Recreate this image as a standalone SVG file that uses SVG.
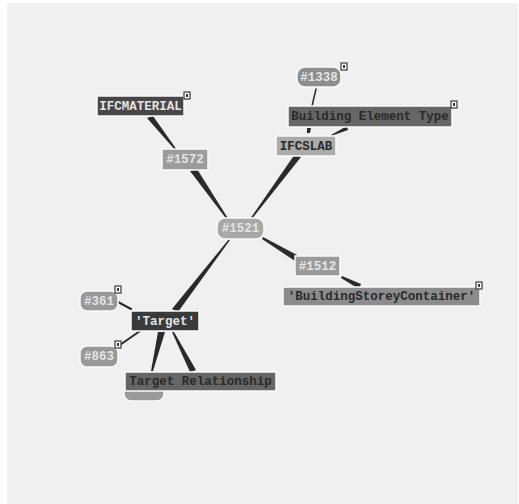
<svg xmlns="http://www.w3.org/2000/svg" width="519" height="504" viewBox="0 0 519 504">
  <style>
    .lbl { font-family: "Liberation Mono", "DejaVu Sans Mono", monospace; font-size: 12.5px; font-weight: bold; text-anchor: middle; dominant-baseline: central; }
    .lt { fill: #e4e4e4; }
    .dk { fill: #2a2a2a; }
    .box { stroke: #fafafa; stroke-width: 1.5; }
    .edge { fill: #2a2a2a; }
    .thin { stroke: #2a2a2a; fill: none; stroke-linecap: round; }
    .badge { fill: #ffffff; stroke: #3a3a3a; stroke-width: 1.2; }
    .badge-mark { fill: #3a3a3a; }
  </style>

  <!-- canvas -->
  <rect x="0" y="0" width="519" height="504" fill="#ffffff"/>
  <rect x="7" y="3" width="511" height="501" fill="#f0f0f0"/>

  <!-- connectors: tapered wedges, thick end at the outer node -->
  <g id="connectors">
    <polygon class="edge" points="147,118 153,116 177,150 176,151"/>
    <polygon class="edge" points="190,171 197,169 229,220 228,221"/>
    <polygon class="edge" points="295,154 301,157 251,220 250,219"/>
    <polygon class="edge" points="297,255 295,261 262,239 263,237"/>
    <polygon class="edge" points="361,284 359,289 341,278 342,276"/>
    <line class="thin" x1="312" y1="106" x2="316" y2="89" stroke-width="1.5"/>
    <polygon class="edge" points="307,128 311,128 310,133 307,133"/>
    <polygon class="edge" points="347,126 348,130 331,136 331,135"/>
    <polygon class="edge" points="172,309 178,312 230,240 229,239"/>
    <line class="thin" x1="118" y1="302" x2="131" y2="309" stroke-width="2"/>
    <line class="thin" x1="117" y1="347" x2="140" y2="331" stroke-width="2"/>
    <polygon class="edge" points="158,332 165,332 153,371 151,371"/>
    <polygon class="edge" points="172,332 174,332 196,370 190,372"/>
  </g>

  <!-- partly hidden pill behind "Target Relationship" -->
  <g id="n-hidden">
    <rect class="box" x="124" y="384" width="40" height="17" rx="7" fill="#9a9a9a"/>
  </g>

  <g id="n-ifcmaterial">
    <rect class="box" x="97" y="96" width="87" height="20" fill="#474747"/>
    <text class="lbl lt" x="140.5" y="106.5">IFCMATERIAL</text>
    <rect class="badge" x="184" y="92" width="6" height="7"/>
    <rect class="badge-mark" x="186" y="94" width="2" height="3"/>
  </g>

  <g id="n-1572">
    <rect class="box" x="162" y="149" width="46" height="21" fill="#9c9c9c"/>
    <text class="lbl lt" x="185" y="160">#1572</text>
  </g>

  <g id="n-1338">
    <rect class="box" x="297" y="67" width="44" height="20" rx="8" fill="#8e8e8e"/>
    <text class="lbl lt" x="319" y="77.5">#1338</text>
    <rect class="badge" x="341" y="63" width="6" height="7"/>
    <rect class="badge-mark" x="343" y="65" width="2" height="3"/>
  </g>

  <g id="n-building-element-type">
    <rect class="box" x="288" y="106" width="164" height="21" fill="#666666"/>
    <text class="lbl dk" x="370" y="117">Building Element Type</text>
    <rect class="badge" x="451" y="101" width="6" height="7"/>
    <rect class="badge-mark" x="453" y="103" width="2" height="3"/>
  </g>

  <g id="n-ifcslab">
    <rect class="box" x="276" y="136" width="60" height="20" fill="#ababab"/>
    <text class="lbl dk" x="306" y="146.5">IFCSLAB</text>
  </g>

  <g id="n-1521">
    <rect class="box" x="217" y="218" width="47" height="21" rx="8" fill="#a8a8a8"/>
    <text class="lbl lt" x="240.5" y="229">#1521</text>
  </g>

  <g id="n-1512">
    <rect class="box" x="295" y="256" width="45" height="20" fill="#9a9a9a"/>
    <text class="lbl lt" x="317.5" y="266.5">#1512</text>
  </g>

  <g id="n-storey-container">
    <rect class="box" x="283" y="287" width="197" height="19" fill="#8c8c8c"/>
    <text class="lbl dk" x="381.5" y="297">'BuildingStoreyContainer'</text>
    <rect class="badge" x="476" y="282" width="6" height="7"/>
    <rect class="badge-mark" x="478" y="284" width="2" height="3"/>
  </g>

  <g id="n-361">
    <rect class="box" x="80" y="291" width="38" height="20" rx="7" fill="#999999"/>
    <text class="lbl lt" x="99" y="301.5">#361</text>
    <rect class="badge" x="115" y="286" width="6" height="7"/>
    <rect class="badge-mark" x="117" y="288" width="2" height="3"/>
  </g>

  <g id="n-target">
    <rect class="box" x="131" y="311" width="68" height="20" fill="#3a3a3a"/>
    <text class="lbl lt" x="165" y="321.5">'Target'</text>
  </g>

  <g id="n-863">
    <rect class="box" x="80" y="346" width="38" height="21" rx="7" fill="#999999"/>
    <text class="lbl lt" x="99" y="357">#863</text>
    <rect class="badge" x="115" y="341" width="6" height="7"/>
    <rect class="badge-mark" x="117" y="343" width="2" height="3"/>
  </g>

  <g id="n-target-relationship">
    <rect class="box" x="125" y="372" width="151" height="19" fill="#666666"/>
    <text class="lbl dk" x="200.5" y="382">Target Relationship</text>
  </g>
</svg>
